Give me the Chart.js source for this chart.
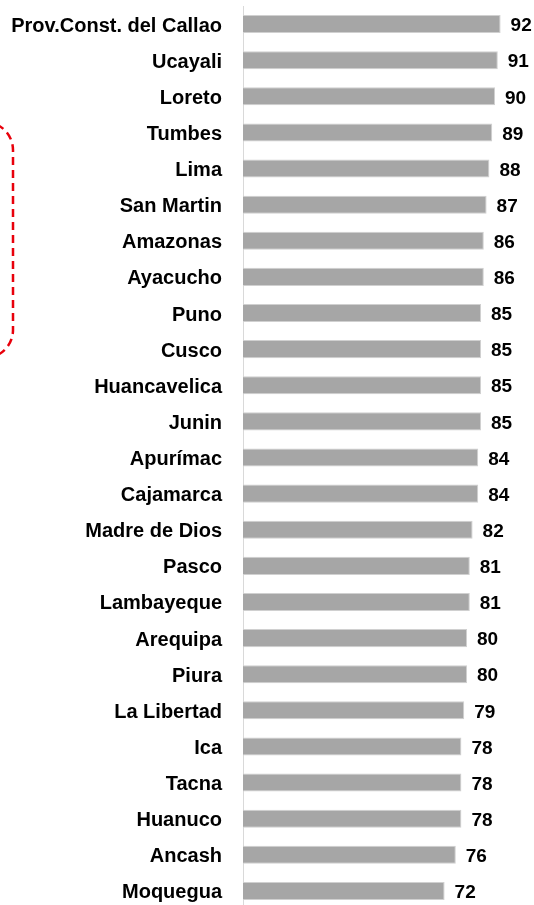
<!DOCTYPE html>
<html>
<head>
<meta charset="utf-8">
<script src="https://cdn.jsdelivr.net/npm/chart.js@4.4.1/dist/chart.umd.min.js"></script>
<style>
  html, body { margin: 0; padding: 0; background: #fff; overflow: hidden; }
  canvas { display: block; }
</style>
</head>
<body>
<canvas id="graficoRegiones" width="534" height="912"></canvas>
<script>
// regiones y porcentajes
const regiones = ['Prov.Const. del Callao', 'Ucayali', 'Loreto', 'Tumbes', 'Lima', 'San Martin',
    'Amazonas', 'Ayacucho', 'Puno', 'Cusco', 'Huancavelica', 'Junin', 'Apurímac', 'Cajamarca',
    'Madre de Dios', 'Pasco', 'Lambayeque', 'Arequipa', 'Piura', 'La Libertad', 'Ica', 'Tacna',
    'Huanuco', 'Ancash', 'Moquegua'];
const valores = [92, 91, 90, 89, 88, 87, 86, 86, 85, 85, 85, 85, 84, 84, 82, 81, 81, 80, 80, 79,
    78, 78, 78, 76, 72];

const fuente = '"Liberation Sans Narrow", "Liberation Sans", Arial, sans-serif';

// valor escrito al final de cada barra
const etiquetasValor = {
    id: 'etiquetasValor',
    afterDatasetsDraw(chart) {
        const ctx = chart.ctx;
        const meta = chart.getDatasetMeta(0);
        ctx.save();
        ctx.font = 'bold 19px ' + fuente;
        ctx.fillStyle = '#000';
        ctx.textAlign = 'left';
        ctx.textBaseline = 'middle';
        meta.data.forEach(function (barra, i) {
            ctx.fillText(valores[i], barra.x + 10, barra.y + 2);
        });
        ctx.restore();
    }
};

// recuadro rojo punteado en el borde izquierdo
const recuadro = {
    id: 'recuadro',
    afterDraw(chart) {
        const ctx = chart.ctx;
        ctx.save();
        ctx.strokeStyle = '#e8000b';
        ctx.lineWidth = 2.5;
        ctx.setLineDash([8, 5]);
        ctx.beginPath();
        ctx.roundRect(-200, 122, 213, 236, 28);
        ctx.stroke();
        ctx.restore();
    }
};

new Chart(document.getElementById('graficoRegiones'), {
    type: 'bar',
    data: {
        labels: regiones,
        datasets: [{
            data: valores,
            backgroundColor: '#a6a6a6',
            borderColor: '#d0d0d0',
            borderWidth: 1,
            categoryPercentage: 1,
            barPercentage: 0.5
        }]
    },
    options: {
        indexAxis: 'y',
        responsive: false,
        animation: false,
        layout: { padding: { top: 6, right: 11, left: 0, bottom: 3 } },
        plugins: {
            legend: { display: false },
            tooltip: { enabled: false }
        },
        scales: {
            x: {
                display: false,
                min: 0,
                max: 100
            },
            y: {
                grid: { display: false, drawTicks: false },
                border: { display: true, color: '#d9d9d9', width: 1 },
                ticks: {
                    color: '#000',
                    padding: 21,
                    labelOffset: 2,
                    font: { family: fuente, size: 20, weight: 'bold' }
                },
                afterFit(escala) {
                    escala.width = 243;
                    escala.paddingTop = 0;
                    escala.paddingBottom = 0;
                }
            }
        }
    },
    plugins: [etiquetasValor, recuadro]
});
</script>
</body>
</html>
